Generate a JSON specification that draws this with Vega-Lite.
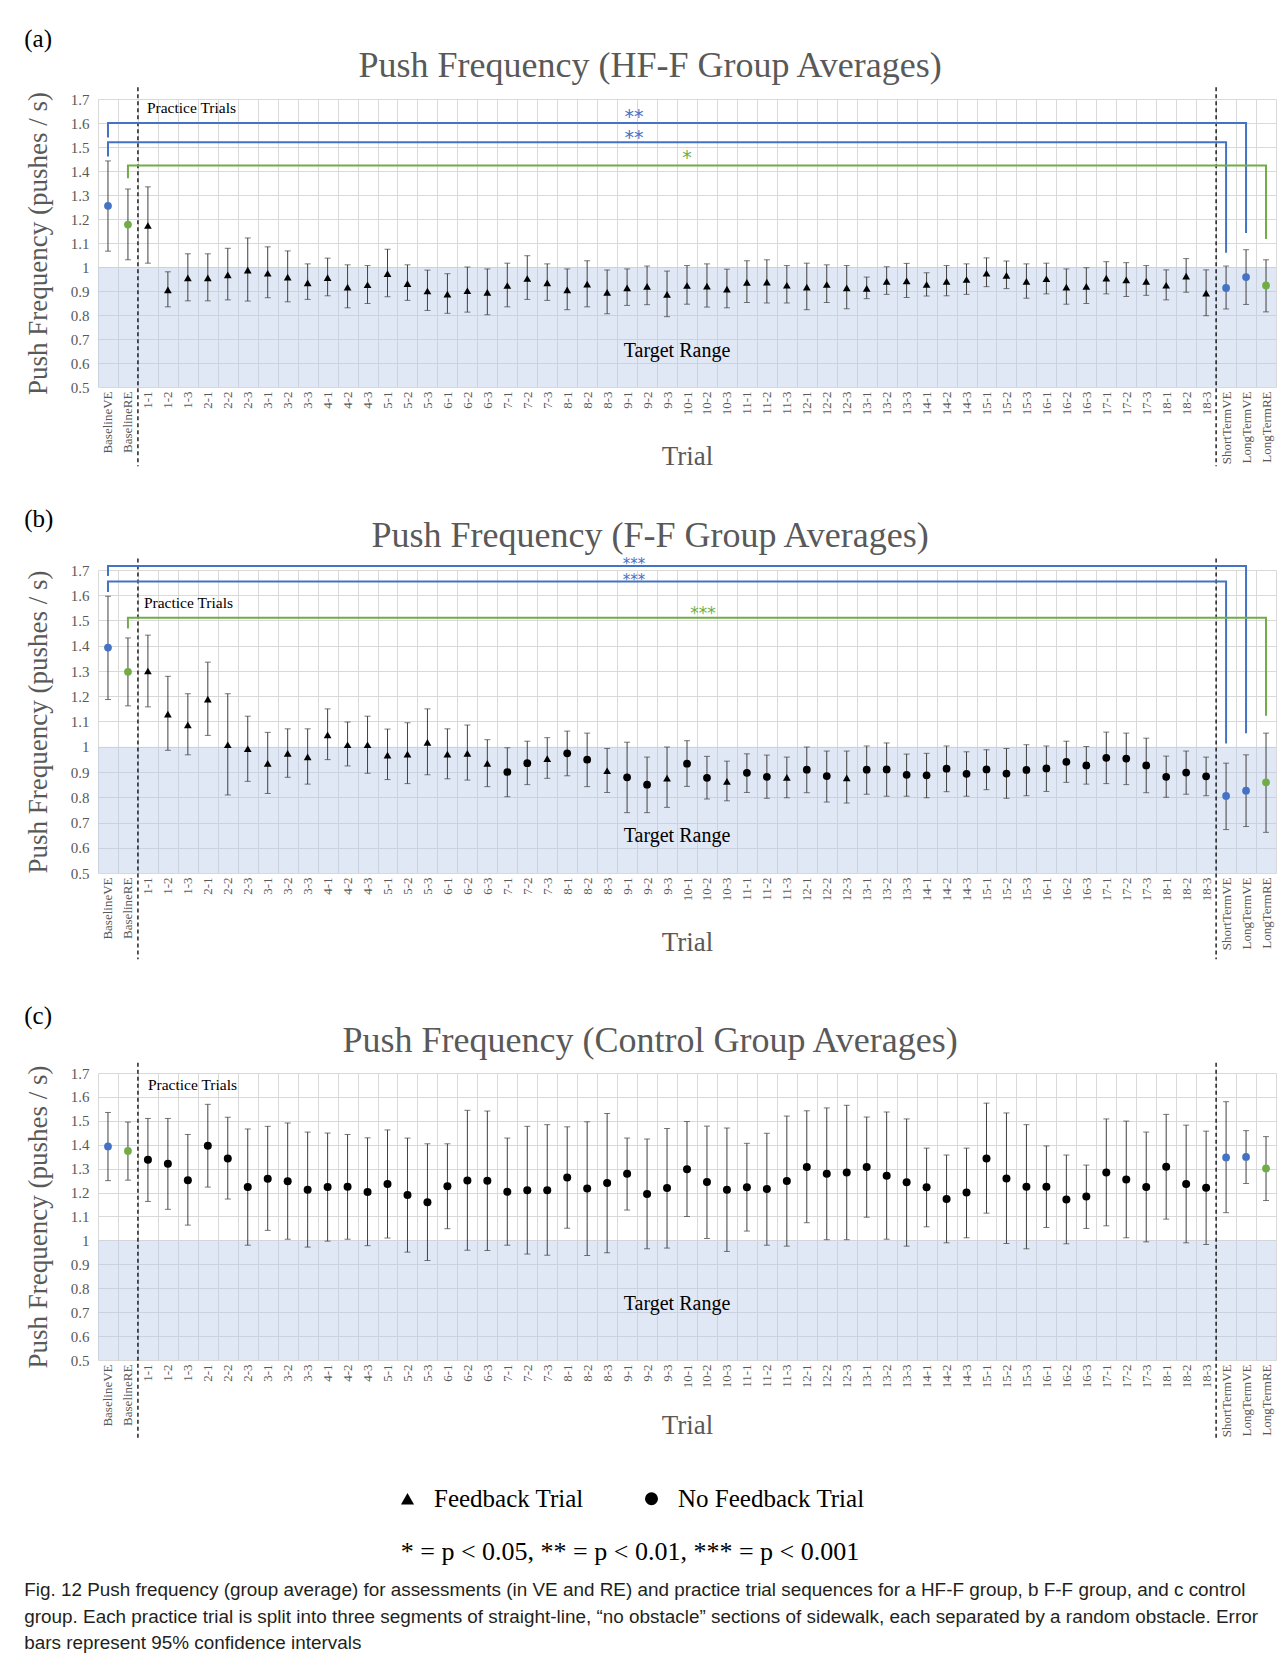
{
"$schema":"https://vega.github.io/schema/vega-lite/v6.json",
"background":"white",
"padding":{"left":24,"top":26,"right":4,"bottom":6},
"spacing":38,
"title":{"text":["Fig. 12  Push frequency (group average) for assessments (in VE and RE) and practice trial sequences for a HF-F group, b F-F group, and c control","group. Each practice trial is split into three segments of straight-line, “no obstacle” sections of sidewalk, each separated by a random obstacle. Error","bars represent 95% confidence intervals"],"orient":"bottom","anchor":"start","frame":"bounds","font":"Liberation Sans","fontSize":18.9,"fontWeight":"normal","color":"#231F20","lineHeight":26.5,"offset":16},
"datasets":{
"a":[
{"t":"BaselineVE","m":1.255,"lo":1.066,"hi":1.442,"k":"Assessment","mod":"VE"},
{"t":"BaselineRE","m":1.177,"lo":1.030,"hi":1.325,"k":"Assessment","mod":"RE"},
{"t":"1-1","m":1.173,"lo":1.016,"hi":1.334,"k":"Feedback Trial"},
{"t":"1-2","m":0.905,"lo":0.834,"hi":0.980,"k":"Feedback Trial"},
{"t":"1-3","m":0.955,"lo":0.859,"hi":1.055,"k":"Feedback Trial"},
{"t":"2-1","m":0.955,"lo":0.859,"hi":1.055,"k":"Feedback Trial"},
{"t":"2-2","m":0.967,"lo":0.863,"hi":1.078,"k":"Feedback Trial"},
{"t":"2-3","m":0.987,"lo":0.858,"hi":1.121,"k":"Feedback Trial"},
{"t":"3-1","m":0.974,"lo":0.872,"hi":1.084,"k":"Feedback Trial"},
{"t":"3-2","m":0.958,"lo":0.855,"hi":1.067,"k":"Feedback Trial"},
{"t":"3-3","m":0.934,"lo":0.865,"hi":1.013,"k":"Feedback Trial"},
{"t":"4-1","m":0.956,"lo":0.880,"hi":1.037,"k":"Feedback Trial"},
{"t":"4-2","m":0.916,"lo":0.830,"hi":1.009,"k":"Feedback Trial"},
{"t":"4-3","m":0.926,"lo":0.848,"hi":1.006,"k":"Feedback Trial"},
{"t":"5-1","m":0.972,"lo":0.876,"hi":1.074,"k":"Feedback Trial"},
{"t":"5-2","m":0.931,"lo":0.861,"hi":1.009,"k":"Feedback Trial"},
{"t":"5-3","m":0.900,"lo":0.819,"hi":0.987,"k":"Feedback Trial"},
{"t":"6-1","m":0.887,"lo":0.807,"hi":0.972,"k":"Feedback Trial"},
{"t":"6-2","m":0.901,"lo":0.812,"hi":1.000,"k":"Feedback Trial"},
{"t":"6-3","m":0.894,"lo":0.801,"hi":0.992,"k":"Feedback Trial"},
{"t":"7-1","m":0.923,"lo":0.834,"hi":1.016,"k":"Feedback Trial"},
{"t":"7-2","m":0.952,"lo":0.865,"hi":1.047,"k":"Feedback Trial"},
{"t":"7-3","m":0.934,"lo":0.861,"hi":1.013,"k":"Feedback Trial"},
{"t":"8-1","m":0.905,"lo":0.822,"hi":0.992,"k":"Feedback Trial"},
{"t":"8-2","m":0.929,"lo":0.834,"hi":1.026,"k":"Feedback Trial"},
{"t":"8-3","m":0.894,"lo":0.805,"hi":0.988,"k":"Feedback Trial"},
{"t":"9-1","m":0.913,"lo":0.840,"hi":0.992,"k":"Feedback Trial"},
{"t":"9-2","m":0.919,"lo":0.843,"hi":1.004,"k":"Feedback Trial"},
{"t":"9-3","m":0.886,"lo":0.793,"hi":0.983,"k":"Feedback Trial"},
{"t":"10-1","m":0.923,"lo":0.845,"hi":1.006,"k":"Feedback Trial"},
{"t":"10-2","m":0.920,"lo":0.833,"hi":1.013,"k":"Feedback Trial"},
{"t":"10-3","m":0.908,"lo":0.830,"hi":0.991,"k":"Feedback Trial"},
{"t":"11-1","m":0.936,"lo":0.852,"hi":1.026,"k":"Feedback Trial"},
{"t":"11-2","m":0.937,"lo":0.850,"hi":1.030,"k":"Feedback Trial"},
{"t":"11-3","m":0.924,"lo":0.850,"hi":1.006,"k":"Feedback Trial"},
{"t":"12-1","m":0.916,"lo":0.822,"hi":1.016,"k":"Feedback Trial"},
{"t":"12-2","m":0.927,"lo":0.852,"hi":1.009,"k":"Feedback Trial"},
{"t":"12-3","m":0.913,"lo":0.826,"hi":1.006,"k":"Feedback Trial"},
{"t":"13-1","m":0.911,"lo":0.868,"hi":0.958,"k":"Feedback Trial"},
{"t":"13-2","m":0.940,"lo":0.886,"hi":1.001,"k":"Feedback Trial"},
{"t":"13-3","m":0.942,"lo":0.873,"hi":1.015,"k":"Feedback Trial"},
{"t":"14-1","m":0.927,"lo":0.879,"hi":0.976,"k":"Feedback Trial"},
{"t":"14-2","m":0.940,"lo":0.880,"hi":1.006,"k":"Feedback Trial"},
{"t":"14-3","m":0.948,"lo":0.886,"hi":1.013,"k":"Feedback Trial"},
{"t":"15-1","m":0.974,"lo":0.918,"hi":1.038,"k":"Feedback Trial"},
{"t":"15-2","m":0.965,"lo":0.910,"hi":1.025,"k":"Feedback Trial"},
{"t":"15-3","m":0.940,"lo":0.870,"hi":1.013,"k":"Feedback Trial"},
{"t":"16-1","m":0.951,"lo":0.888,"hi":1.016,"k":"Feedback Trial"},
{"t":"16-2","m":0.916,"lo":0.845,"hi":0.992,"k":"Feedback Trial"},
{"t":"16-3","m":0.919,"lo":0.848,"hi":0.997,"k":"Feedback Trial"},
{"t":"17-1","m":0.954,"lo":0.888,"hi":1.022,"k":"Feedback Trial"},
{"t":"17-2","m":0.946,"lo":0.877,"hi":1.018,"k":"Feedback Trial"},
{"t":"17-3","m":0.940,"lo":0.882,"hi":1.006,"k":"Feedback Trial"},
{"t":"18-1","m":0.924,"lo":0.863,"hi":0.988,"k":"Feedback Trial"},
{"t":"18-2","m":0.962,"lo":0.895,"hi":1.035,"k":"Feedback Trial"},
{"t":"18-3","m":0.891,"lo":0.797,"hi":0.988,"k":"Feedback Trial"},
{"t":"ShortTermVE","m":0.913,"lo":0.825,"hi":1.004,"k":"Assessment","mod":"VE"},
{"t":"LongTermVE","m":0.958,"lo":0.844,"hi":1.072,"k":"Assessment","mod":"VE"},
{"t":"LongTermRE","m":0.923,"lo":0.813,"hi":1.030,"k":"Assessment","mod":"RE"}
],
"b":[
{"t":"BaselineVE","m":1.393,"lo":1.187,"hi":1.596,"k":"Assessment","mod":"VE"},
{"t":"BaselineRE","m":1.297,"lo":1.162,"hi":1.431,"k":"Assessment","mod":"RE"},
{"t":"1-1","m":1.300,"lo":1.158,"hi":1.442,"k":"Feedback Trial"},
{"t":"1-2","m":1.129,"lo":0.986,"hi":1.279,"k":"Feedback Trial"},
{"t":"1-3","m":1.087,"lo":0.968,"hi":1.210,"k":"Feedback Trial"},
{"t":"2-1","m":1.189,"lo":1.045,"hi":1.335,"k":"Feedback Trial"},
{"t":"2-2","m":1.008,"lo":0.809,"hi":1.210,"k":"Feedback Trial"},
{"t":"2-3","m":0.992,"lo":0.863,"hi":1.121,"k":"Feedback Trial"},
{"t":"3-1","m":0.934,"lo":0.815,"hi":1.057,"k":"Feedback Trial"},
{"t":"3-2","m":0.974,"lo":0.879,"hi":1.071,"k":"Feedback Trial"},
{"t":"3-3","m":0.960,"lo":0.852,"hi":1.071,"k":"Feedback Trial"},
{"t":"4-1","m":1.047,"lo":0.949,"hi":1.150,"k":"Feedback Trial"},
{"t":"4-2","m":1.008,"lo":0.924,"hi":1.098,"k":"Feedback Trial"},
{"t":"4-3","m":1.008,"lo":0.895,"hi":1.121,"k":"Feedback Trial"},
{"t":"5-1","m":0.967,"lo":0.870,"hi":1.070,"k":"Feedback Trial"},
{"t":"5-2","m":0.971,"lo":0.854,"hi":1.095,"k":"Feedback Trial"},
{"t":"5-3","m":1.017,"lo":0.889,"hi":1.150,"k":"Feedback Trial"},
{"t":"6-1","m":0.971,"lo":0.873,"hi":1.071,"k":"Feedback Trial"},
{"t":"6-2","m":0.974,"lo":0.868,"hi":1.086,"k":"Feedback Trial"},
{"t":"6-3","m":0.934,"lo":0.842,"hi":1.028,"k":"Feedback Trial"},
{"t":"7-1","m":0.900,"lo":0.802,"hi":0.996,"k":"No Feedback Trial"},
{"t":"7-2","m":0.935,"lo":0.850,"hi":1.022,"k":"No Feedback Trial"},
{"t":"7-3","m":0.953,"lo":0.875,"hi":1.036,"k":"Feedback Trial"},
{"t":"8-1","m":0.974,"lo":0.885,"hi":1.062,"k":"No Feedback Trial"},
{"t":"8-2","m":0.949,"lo":0.842,"hi":1.054,"k":"No Feedback Trial"},
{"t":"8-3","m":0.905,"lo":0.819,"hi":0.993,"k":"Feedback Trial"},
{"t":"9-1","m":0.879,"lo":0.739,"hi":1.018,"k":"No Feedback Trial"},
{"t":"9-2","m":0.850,"lo":0.739,"hi":0.959,"k":"No Feedback Trial"},
{"t":"9-3","m":0.876,"lo":0.760,"hi":0.999,"k":"Feedback Trial"},
{"t":"10-1","m":0.933,"lo":0.843,"hi":1.024,"k":"No Feedback Trial"},
{"t":"10-2","m":0.877,"lo":0.793,"hi":0.962,"k":"No Feedback Trial"},
{"t":"10-3","m":0.863,"lo":0.786,"hi":0.943,"k":"Feedback Trial"},
{"t":"11-1","m":0.897,"lo":0.819,"hi":0.972,"k":"No Feedback Trial"},
{"t":"11-2","m":0.881,"lo":0.796,"hi":0.967,"k":"No Feedback Trial"},
{"t":"11-3","m":0.879,"lo":0.798,"hi":0.959,"k":"Feedback Trial"},
{"t":"12-1","m":0.909,"lo":0.818,"hi":0.999,"k":"No Feedback Trial"},
{"t":"12-2","m":0.884,"lo":0.781,"hi":0.983,"k":"No Feedback Trial"},
{"t":"12-3","m":0.877,"lo":0.777,"hi":0.983,"k":"Feedback Trial"},
{"t":"13-1","m":0.909,"lo":0.812,"hi":1.003,"k":"No Feedback Trial"},
{"t":"13-2","m":0.910,"lo":0.804,"hi":1.015,"k":"No Feedback Trial"},
{"t":"13-3","m":0.889,"lo":0.804,"hi":0.971,"k":"No Feedback Trial"},
{"t":"14-1","m":0.887,"lo":0.798,"hi":0.974,"k":"No Feedback Trial"},
{"t":"14-2","m":0.913,"lo":0.822,"hi":1.003,"k":"No Feedback Trial"},
{"t":"14-3","m":0.893,"lo":0.804,"hi":0.980,"k":"No Feedback Trial"},
{"t":"15-1","m":0.910,"lo":0.830,"hi":0.988,"k":"No Feedback Trial"},
{"t":"15-2","m":0.894,"lo":0.796,"hi":0.993,"k":"No Feedback Trial"},
{"t":"15-3","m":0.908,"lo":0.806,"hi":1.008,"k":"No Feedback Trial"},
{"t":"16-1","m":0.914,"lo":0.823,"hi":1.003,"k":"No Feedback Trial"},
{"t":"16-2","m":0.940,"lo":0.859,"hi":1.022,"k":"No Feedback Trial"},
{"t":"16-3","m":0.926,"lo":0.852,"hi":1.001,"k":"No Feedback Trial"},
{"t":"17-1","m":0.956,"lo":0.854,"hi":1.058,"k":"No Feedback Trial"},
{"t":"17-2","m":0.953,"lo":0.850,"hi":1.054,"k":"No Feedback Trial"},
{"t":"17-3","m":0.926,"lo":0.818,"hi":1.034,"k":"No Feedback Trial"},
{"t":"18-1","m":0.881,"lo":0.800,"hi":0.963,"k":"No Feedback Trial"},
{"t":"18-2","m":0.898,"lo":0.812,"hi":0.983,"k":"No Feedback Trial"},
{"t":"18-3","m":0.883,"lo":0.806,"hi":0.959,"k":"No Feedback Trial"},
{"t":"ShortTermVE","m":0.805,"lo":0.672,"hi":0.935,"k":"Assessment","mod":"VE"},
{"t":"LongTermVE","m":0.826,"lo":0.684,"hi":0.968,"k":"Assessment","mod":"VE"},
{"t":"LongTermRE","m":0.859,"lo":0.661,"hi":1.054,"k":"Assessment","mod":"RE"}
],
"c":[
{"t":"BaselineVE","m":1.393,"lo":1.250,"hi":1.535,"k":"Assessment","mod":"VE"},
{"t":"BaselineRE","m":1.374,"lo":1.252,"hi":1.495,"k":"Assessment","mod":"RE"},
{"t":"1-1","m":1.337,"lo":1.163,"hi":1.510,"k":"No Feedback Trial"},
{"t":"1-2","m":1.321,"lo":1.130,"hi":1.510,"k":"No Feedback Trial"},
{"t":"1-3","m":1.252,"lo":1.064,"hi":1.443,"k":"No Feedback Trial"},
{"t":"2-1","m":1.396,"lo":1.223,"hi":1.569,"k":"No Feedback Trial"},
{"t":"2-2","m":1.343,"lo":1.173,"hi":1.515,"k":"No Feedback Trial"},
{"t":"2-3","m":1.223,"lo":0.980,"hi":1.466,"k":"No Feedback Trial"},
{"t":"3-1","m":1.258,"lo":1.042,"hi":1.477,"k":"No Feedback Trial"},
{"t":"3-2","m":1.247,"lo":1.005,"hi":1.491,"k":"No Feedback Trial"},
{"t":"3-3","m":1.212,"lo":0.972,"hi":1.453,"k":"No Feedback Trial"},
{"t":"4-1","m":1.223,"lo":0.997,"hi":1.449,"k":"No Feedback Trial"},
{"t":"4-2","m":1.224,"lo":1.005,"hi":1.443,"k":"No Feedback Trial"},
{"t":"4-3","m":1.202,"lo":0.978,"hi":1.429,"k":"No Feedback Trial"},
{"t":"5-1","m":1.236,"lo":1.010,"hi":1.462,"k":"No Feedback Trial"},
{"t":"5-2","m":1.190,"lo":0.951,"hi":1.428,"k":"No Feedback Trial"},
{"t":"5-3","m":1.160,"lo":0.916,"hi":1.404,"k":"No Feedback Trial"},
{"t":"6-1","m":1.227,"lo":1.049,"hi":1.404,"k":"No Feedback Trial"},
{"t":"6-2","m":1.251,"lo":0.959,"hi":1.544,"k":"No Feedback Trial"},
{"t":"6-3","m":1.250,"lo":0.958,"hi":1.541,"k":"No Feedback Trial"},
{"t":"7-1","m":1.203,"lo":0.980,"hi":1.428,"k":"No Feedback Trial"},
{"t":"7-2","m":1.210,"lo":0.943,"hi":1.477,"k":"No Feedback Trial"},
{"t":"7-3","m":1.210,"lo":0.938,"hi":1.484,"k":"No Feedback Trial"},
{"t":"8-1","m":1.263,"lo":1.051,"hi":1.475,"k":"No Feedback Trial"},
{"t":"8-2","m":1.217,"lo":0.937,"hi":1.496,"k":"No Feedback Trial"},
{"t":"8-3","m":1.240,"lo":0.948,"hi":1.531,"k":"No Feedback Trial"},
{"t":"9-1","m":1.279,"lo":1.127,"hi":1.428,"k":"No Feedback Trial"},
{"t":"9-2","m":1.194,"lo":0.965,"hi":1.424,"k":"No Feedback Trial"},
{"t":"9-3","m":1.219,"lo":0.968,"hi":1.468,"k":"No Feedback Trial"},
{"t":"10-1","m":1.298,"lo":1.100,"hi":1.497,"k":"No Feedback Trial"},
{"t":"10-2","m":1.244,"lo":1.008,"hi":1.478,"k":"No Feedback Trial"},
{"t":"10-3","m":1.212,"lo":0.954,"hi":1.470,"k":"No Feedback Trial"},
{"t":"11-1","m":1.222,"lo":1.039,"hi":1.406,"k":"No Feedback Trial"},
{"t":"11-2","m":1.215,"lo":0.980,"hi":1.448,"k":"No Feedback Trial"},
{"t":"11-3","m":1.248,"lo":0.976,"hi":1.520,"k":"No Feedback Trial"},
{"t":"12-1","m":1.307,"lo":1.074,"hi":1.542,"k":"No Feedback Trial"},
{"t":"12-2","m":1.279,"lo":1.003,"hi":1.554,"k":"No Feedback Trial"},
{"t":"12-3","m":1.284,"lo":1.003,"hi":1.565,"k":"No Feedback Trial"},
{"t":"13-1","m":1.307,"lo":1.097,"hi":1.516,"k":"No Feedback Trial"},
{"t":"13-2","m":1.270,"lo":1.005,"hi":1.537,"k":"No Feedback Trial"},
{"t":"13-3","m":1.243,"lo":0.976,"hi":1.508,"k":"No Feedback Trial"},
{"t":"14-1","m":1.222,"lo":1.057,"hi":1.386,"k":"No Feedback Trial"},
{"t":"14-2","m":1.173,"lo":0.990,"hi":1.357,"k":"No Feedback Trial"},
{"t":"14-3","m":1.200,"lo":1.011,"hi":1.386,"k":"No Feedback Trial"},
{"t":"15-1","m":1.343,"lo":1.114,"hi":1.574,"k":"No Feedback Trial"},
{"t":"15-2","m":1.259,"lo":0.987,"hi":1.533,"k":"No Feedback Trial"},
{"t":"15-3","m":1.224,"lo":0.965,"hi":1.484,"k":"No Feedback Trial"},
{"t":"16-1","m":1.224,"lo":1.054,"hi":1.395,"k":"No Feedback Trial"},
{"t":"16-2","m":1.171,"lo":0.986,"hi":1.357,"k":"No Feedback Trial"},
{"t":"16-3","m":1.184,"lo":1.050,"hi":1.315,"k":"No Feedback Trial"},
{"t":"17-1","m":1.284,"lo":1.061,"hi":1.508,"k":"No Feedback Trial"},
{"t":"17-2","m":1.255,"lo":1.011,"hi":1.499,"k":"No Feedback Trial"},
{"t":"17-3","m":1.223,"lo":0.994,"hi":1.453,"k":"No Feedback Trial"},
{"t":"18-1","m":1.308,"lo":1.089,"hi":1.527,"k":"No Feedback Trial"},
{"t":"18-2","m":1.236,"lo":0.990,"hi":1.482,"k":"No Feedback Trial"},
{"t":"18-3","m":1.220,"lo":0.983,"hi":1.457,"k":"No Feedback Trial"},
{"t":"ShortTermVE","m":1.347,"lo":1.116,"hi":1.580,"k":"Assessment","mod":"VE"},
{"t":"LongTermVE","m":1.349,"lo":1.238,"hi":1.459,"k":"Assessment","mod":"VE"},
{"t":"LongTermRE","m":1.301,"lo":1.167,"hi":1.434,"k":"Assessment","mod":"RE"}
]
},
"vconcat":[
{"title":{"text":"(a)","anchor":"start","frame":"bounds","font":"Liberation Serif","fontSize":25,"fontWeight":"normal","color":"black","offset":-4},
"vconcat":[{
"width":1178,"height":288,
"title":{"text":"Push Frequency (HF-F Group Averages)","anchor":"middle","frame":"bounds","font":"Liberation Serif","fontSize":36,"fontWeight":"normal","color":"#595959","offset":2},
"data":{"name":"a"},
"encoding":{"x":{"field":"t","type":"nominal","title":"Trial","scale":{"domain":["BaselineVE","BaselineRE","1-1","1-2","1-3","2-1","2-2","2-3","3-1","3-2","3-3","4-1","4-2","4-3","5-1","5-2","5-3","6-1","6-2","6-3","7-1","7-2","7-3","8-1","8-2","8-3","9-1","9-2","9-3","10-1","10-2","10-3","11-1","11-2","11-3","12-1","12-2","12-3","13-1","13-2","13-3","14-1","14-2","14-3","15-1","15-2","15-3","16-1","16-2","16-3","17-1","17-2","17-3","18-1","18-2","18-3","ShortTermVE","LongTermVE","LongTermRE"],"paddingInner":0,"paddingOuter":0},"axis":{"titleY":69,"titleBaseline":"middle"}}},
"layer":[
{"data":{"values":[{"lo":0.5,"hi":1}]},"mark":{"type":"rect","fill":"#B4C7E7","opacity":0.42},"encoding":{"x":{"value":0},"x2":{"value":"width"},"y":{"field":"lo","type":"quantitative","scale":{"domain":[0.5,1.7],"nice":false,"zero":false},"title":"Push Frequency (pushes / s)","axis":{"values":[0.5,0.6,0.7,0.8,0.9,1,1.1,1.2,1.3,1.4,1.5,1.6,1.7],"tickCount":13,"format":".1~f","labelOverlap":false}},"y2":{"field":"hi"}}},
{"mark":{"type":"rule","color":"#404040","strokeWidth":1},"encoding":{"y":{"field":"lo","type":"quantitative","scale":{"domain":[0.5,1.7],"nice":false,"zero":false},"title":"Push Frequency (pushes / s)"},"y2":{"field":"hi"}}},
{"mark":{"type":"tick","color":"#404040","size":6,"thickness":1},"encoding":{"y":{"field":"lo","type":"quantitative","scale":{"domain":[0.5,1.7],"nice":false,"zero":false},"title":"Push Frequency (pushes / s)"}}},
{"mark":{"type":"tick","color":"#404040","size":6,"thickness":1},"encoding":{"y":{"field":"hi","type":"quantitative","scale":{"domain":[0.5,1.7],"nice":false,"zero":false},"title":"Push Frequency (pushes / s)"}}},
{"transform":[{"filter":"datum.k !== 'Assessment'"}],"mark":{"type":"point","filled":true,"color":"black","size":60,"opacity":1},"encoding":{"y":{"field":"m","type":"quantitative","scale":{"domain":[0.5,1.7],"nice":false,"zero":false},"title":"Push Frequency (pushes / s)"},"shape":{"field":"k","type":"nominal","scale":{"domain":["Feedback Trial","No Feedback Trial"],"range":["triangle-up","circle"]},"title":"* = p < 0.05, ** = p < 0.01, *** = p < 0.001","legend":{"orient":"none","legendX":297,"legendY":1387}}}},
{"transform":[{"filter":"datum.k === 'Assessment'"}],"mark":{"type":"point","filled":true,"shape":"circle","size":60,"opacity":1},"encoding":{"y":{"field":"m","type":"quantitative","scale":{"domain":[0.5,1.7],"nice":false,"zero":false},"title":"Push Frequency (pushes / s)"},"color":{"field":"mod","type":"nominal","scale":{"domain":["VE","RE"],"range":["#4472C4","#70AD47"]},"legend":null}}},
{"data":{"values":[{"t":"1-1","top":1.749,"bot":0.17},{"t":"ShortTermVE","top":1.749,"bot":0.17}]},"mark":{"type":"rule","color":"black","strokeDash":[4,3],"strokeWidth":1.3},"encoding":{"x":{"field":"t","type":"nominal","bandPosition":0},"y":{"field":"top","type":"quantitative","scale":{"domain":[0.5,1.7],"nice":false,"zero":false},"title":"Push Frequency (pushes / s)"},"y2":{"field":"bot"}}},
{"data":{"values":[
{"id":"a1","t":"BaselineVE","y":1.54,"seq":0,"mod":"VE"},{"id":"a1","t":"BaselineVE","y":1.60,"seq":1,"mod":"VE"},{"id":"a1","t":"LongTermVE","y":1.60,"seq":2,"mod":"VE"},{"id":"a1","t":"LongTermVE","y":1.142,"seq":3,"mod":"VE"},
{"id":"a2","t":"BaselineVE","y":1.46,"seq":0,"mod":"VE"},{"id":"a2","t":"BaselineVE","y":1.52,"seq":1,"mod":"VE"},{"id":"a2","t":"ShortTermVE","y":1.52,"seq":2,"mod":"VE"},{"id":"a2","t":"ShortTermVE","y":1.059,"seq":3,"mod":"VE"},
{"id":"a3","t":"BaselineRE","y":1.37,"seq":0,"mod":"RE"},{"id":"a3","t":"BaselineRE","y":1.423,"seq":1,"mod":"RE"},{"id":"a3","t":"LongTermRE","y":1.423,"seq":2,"mod":"RE"},{"id":"a3","t":"LongTermRE","y":1.117,"seq":3,"mod":"RE"}]},
"mark":{"type":"line","strokeWidth":2},"encoding":{"y":{"field":"y","type":"quantitative","scale":{"domain":[0.5,1.7],"nice":false,"zero":false},"title":"Push Frequency (pushes / s)"},"order":{"field":"seq","type":"quantitative"},"detail":{"field":"id","type":"nominal"},"color":{"field":"mod","type":"nominal","scale":{"domain":["VE","RE"],"range":["#4472C4","#70AD47"]},"legend":null}}},
{"data":{"values":[{"t":"9-1","y":1.638,"s":"**","mod":"VE"},{"t":"9-1","y":1.552,"s":"**","mod":"VE"}]},"mark":{"type":"text","font":"DejaVu Sans","fontSize":19,"dx":7,"dy":3,"baseline":"middle"},"encoding":{"y":{"field":"y","type":"quantitative","scale":{"domain":[0.5,1.7],"nice":false,"zero":false},"title":"Push Frequency (pushes / s)"},"text":{"field":"s"},"color":{"field":"mod","type":"nominal","scale":{"domain":["VE","RE"],"range":["#4472C4","#70AD47"]},"legend":null}}},
{"data":{"values":[{"t":"10-1","y":1.468,"s":"*","mod":"RE"}]},"mark":{"type":"text","font":"DejaVu Sans","fontSize":19,"dy":3,"baseline":"middle"},"encoding":{"y":{"field":"y","type":"quantitative","scale":{"domain":[0.5,1.7],"nice":false,"zero":false},"title":"Push Frequency (pushes / s)"},"text":{"field":"s"},"color":{"field":"mod","type":"nominal","scale":{"domain":["VE","RE"],"range":["#4472C4","#70AD47"]},"legend":null}}},
{"data":{"values":[{"t":"1-1","y":1.662,"s":"Practice Trials"}]},"mark":{"type":"text","align":"left","baseline":"middle","dx":9,"font":"Liberation Serif","fontSize":15.5,"color":"black"},"encoding":{"x":{"field":"t","type":"nominal","bandPosition":0},"y":{"field":"y","type":"quantitative","scale":{"domain":[0.5,1.7],"nice":false,"zero":false},"title":"Push Frequency (pushes / s)"},"text":{"field":"s"}}},
{"data":{"values":[{"t":"10-1","y":0.65,"s":"Target Range"}]},"mark":{"type":"text","baseline":"middle","font":"Liberation Serif","fontSize":20,"color":"black"},"encoding":{"x":{"field":"t","type":"nominal","bandPosition":0},"y":{"field":"y","type":"quantitative","scale":{"domain":[0.5,1.7],"nice":false,"zero":false},"title":"Push Frequency (pushes / s)"},"text":{"field":"s"}}}
]}]},
{"spacing":43,"vconcat":[
{"title":{"text":"(b)","anchor":"start","frame":"bounds","font":"Liberation Serif","fontSize":25,"fontWeight":"normal","color":"black","offset":-14},
"vconcat":[{
"width":1178,"height":303,
"title":{"text":"Push Frequency (F-F Group Averages)","anchor":"middle","frame":"bounds","font":"Liberation Serif","fontSize":36,"fontWeight":"normal","color":"#595959","offset":2},
"data":{"name":"b"},
"encoding":{"x":{"field":"t","type":"nominal","title":"Trial","scale":{"domain":["BaselineVE","BaselineRE","1-1","1-2","1-3","2-1","2-2","2-3","3-1","3-2","3-3","4-1","4-2","4-3","5-1","5-2","5-3","6-1","6-2","6-3","7-1","7-2","7-3","8-1","8-2","8-3","9-1","9-2","9-3","10-1","10-2","10-3","11-1","11-2","11-3","12-1","12-2","12-3","13-1","13-2","13-3","14-1","14-2","14-3","15-1","15-2","15-3","16-1","16-2","16-3","17-1","17-2","17-3","18-1","18-2","18-3","ShortTermVE","LongTermVE","LongTermRE"],"paddingInner":0,"paddingOuter":0},"axis":{"titleY":69,"titleBaseline":"middle"}}},
"layer":[
{"data":{"values":[{"lo":0.5,"hi":1}]},"mark":{"type":"rect","fill":"#B4C7E7","opacity":0.42},"encoding":{"x":{"value":0},"x2":{"value":"width"},"y":{"field":"lo","type":"quantitative","scale":{"domain":[0.5,1.7],"nice":false,"zero":false},"title":"Push Frequency (pushes / s)","axis":{"values":[0.5,0.6,0.7,0.8,0.9,1,1.1,1.2,1.3,1.4,1.5,1.6,1.7],"tickCount":13,"format":".1~f","labelOverlap":false}},"y2":{"field":"hi"}}},
{"mark":{"type":"rule","color":"#404040","strokeWidth":1},"encoding":{"y":{"field":"lo","type":"quantitative","scale":{"domain":[0.5,1.7],"nice":false,"zero":false},"title":"Push Frequency (pushes / s)"},"y2":{"field":"hi"}}},
{"mark":{"type":"tick","color":"#404040","size":6,"thickness":1},"encoding":{"y":{"field":"lo","type":"quantitative","scale":{"domain":[0.5,1.7],"nice":false,"zero":false},"title":"Push Frequency (pushes / s)"}}},
{"mark":{"type":"tick","color":"#404040","size":6,"thickness":1},"encoding":{"y":{"field":"hi","type":"quantitative","scale":{"domain":[0.5,1.7],"nice":false,"zero":false},"title":"Push Frequency (pushes / s)"}}},
{"transform":[{"filter":"datum.k !== 'Assessment'"}],"mark":{"type":"point","filled":true,"color":"black","size":60,"opacity":1},"encoding":{"y":{"field":"m","type":"quantitative","scale":{"domain":[0.5,1.7],"nice":false,"zero":false},"title":"Push Frequency (pushes / s)"},"shape":{"field":"k","type":"nominal","scale":{"domain":["Feedback Trial","No Feedback Trial"],"range":["triangle-up","circle"]},"title":"* = p < 0.05, ** = p < 0.01, *** = p < 0.001","legend":{"orient":"none","legendX":297,"legendY":1387}}}},
{"transform":[{"filter":"datum.k === 'Assessment'"}],"mark":{"type":"point","filled":true,"shape":"circle","size":60,"opacity":1},"encoding":{"y":{"field":"m","type":"quantitative","scale":{"domain":[0.5,1.7],"nice":false,"zero":false},"title":"Push Frequency (pushes / s)"},"color":{"field":"mod","type":"nominal","scale":{"domain":["VE","RE"],"range":["#4472C4","#70AD47"]},"legend":null}}},
{"data":{"values":[{"t":"1-1","top":1.746,"bot":0.158},{"t":"ShortTermVE","top":1.746,"bot":0.158}]},"mark":{"type":"rule","color":"black","strokeDash":[4,3],"strokeWidth":1.3},"encoding":{"x":{"field":"t","type":"nominal","bandPosition":0},"y":{"field":"top","type":"quantitative","scale":{"domain":[0.5,1.7],"nice":false,"zero":false},"title":"Push Frequency (pushes / s)"},"y2":{"field":"bot"}}},
{"data":{"values":[
{"id":"b1","t":"BaselineVE","y":1.676,"seq":0,"mod":"VE"},{"id":"b1","t":"BaselineVE","y":1.716,"seq":1,"mod":"VE"},{"id":"b1","t":"LongTermVE","y":1.716,"seq":2,"mod":"VE"},{"id":"b1","t":"LongTermVE","y":1.053,"seq":3,"mod":"VE"},
{"id":"b2","t":"BaselineVE","y":1.613,"seq":0,"mod":"VE"},{"id":"b2","t":"BaselineVE","y":1.654,"seq":1,"mod":"VE"},{"id":"b2","t":"ShortTermVE","y":1.654,"seq":2,"mod":"VE"},{"id":"b2","t":"ShortTermVE","y":1.013,"seq":3,"mod":"VE"},
{"id":"b3","t":"BaselineRE","y":1.468,"seq":0,"mod":"RE"},{"id":"b3","t":"BaselineRE","y":1.511,"seq":1,"mod":"RE"},{"id":"b3","t":"LongTermRE","y":1.511,"seq":2,"mod":"RE"},{"id":"b3","t":"LongTermRE","y":1.123,"seq":3,"mod":"RE"}]},
"mark":{"type":"line","strokeWidth":2},"encoding":{"y":{"field":"y","type":"quantitative","scale":{"domain":[0.5,1.7],"nice":false,"zero":false},"title":"Push Frequency (pushes / s)"},"order":{"field":"seq","type":"quantitative"},"detail":{"field":"id","type":"nominal"},"color":{"field":"mod","type":"nominal","scale":{"domain":["VE","RE"],"range":["#4472C4","#70AD47"]},"legend":null}}},
{"data":{"values":[{"t":"9-1","y":1.742,"s":"***","mod":"VE"},{"t":"9-1","y":1.68,"s":"***","mod":"VE"}]},"mark":{"type":"text","font":"DejaVu Sans","fontSize":15,"dx":7,"dy":5,"baseline":"middle"},"encoding":{"y":{"field":"y","type":"quantitative","scale":{"domain":[0.5,1.7],"nice":false,"zero":false},"title":"Push Frequency (pushes / s)"},"text":{"field":"s"},"color":{"field":"mod","type":"nominal","scale":{"domain":["VE","RE"],"range":["#4472C4","#70AD47"]},"legend":null}}},
{"data":{"values":[{"t":"10-2","y":1.547,"s":"***","mod":"RE"}]},"mark":{"type":"text","font":"DejaVu Sans","fontSize":17,"dx":-4,"dy":5,"baseline":"middle"},"encoding":{"y":{"field":"y","type":"quantitative","scale":{"domain":[0.5,1.7],"nice":false,"zero":false},"title":"Push Frequency (pushes / s)"},"text":{"field":"s"},"color":{"field":"mod","type":"nominal","scale":{"domain":["VE","RE"],"range":["#4472C4","#70AD47"]},"legend":null}}},
{"data":{"values":[{"t":"1-1","y":1.569,"s":"Practice Trials"}]},"mark":{"type":"text","align":"left","baseline":"middle","dx":6,"font":"Liberation Serif","fontSize":15.5,"color":"black"},"encoding":{"x":{"field":"t","type":"nominal","bandPosition":0},"y":{"field":"y","type":"quantitative","scale":{"domain":[0.5,1.7],"nice":false,"zero":false},"title":"Push Frequency (pushes / s)"},"text":{"field":"s"}}},
{"data":{"values":[{"t":"10-1","y":0.647,"s":"Target Range"}]},"mark":{"type":"text","baseline":"middle","font":"Liberation Serif","fontSize":20,"color":"black"},"encoding":{"x":{"field":"t","type":"nominal","bandPosition":0},"y":{"field":"y","type":"quantitative","scale":{"domain":[0.5,1.7],"nice":false,"zero":false},"title":"Push Frequency (pushes / s)"},"text":{"field":"s"}}}
]}]},
{"title":{"text":"(c)","anchor":"start","frame":"bounds","font":"Liberation Serif","fontSize":25,"fontWeight":"normal","color":"black","offset":-6},
"vconcat":[{
"width":1178,"height":287,
"title":{"text":"Push Frequency (Control Group Averages)","anchor":"middle","frame":"bounds","font":"Liberation Serif","fontSize":36,"fontWeight":"normal","color":"#595959","offset":2},
"data":{"name":"c"},
"encoding":{"x":{"field":"t","type":"nominal","title":"Trial","scale":{"domain":["BaselineVE","BaselineRE","1-1","1-2","1-3","2-1","2-2","2-3","3-1","3-2","3-3","4-1","4-2","4-3","5-1","5-2","5-3","6-1","6-2","6-3","7-1","7-2","7-3","8-1","8-2","8-3","9-1","9-2","9-3","10-1","10-2","10-3","11-1","11-2","11-3","12-1","12-2","12-3","13-1","13-2","13-3","14-1","14-2","14-3","15-1","15-2","15-3","16-1","16-2","16-3","17-1","17-2","17-3","18-1","18-2","18-3","ShortTermVE","LongTermVE","LongTermRE"],"paddingInner":0,"paddingOuter":0},"axis":{"titleY":65,"titleBaseline":"middle"}}},
"layer":[
{"data":{"values":[{"lo":0.5,"hi":1}]},"mark":{"type":"rect","fill":"#B4C7E7","opacity":0.42},"encoding":{"x":{"value":0},"x2":{"value":"width"},"y":{"field":"lo","type":"quantitative","scale":{"domain":[0.5,1.7],"nice":false,"zero":false},"title":"Push Frequency (pushes / s)","axis":{"values":[0.5,0.6,0.7,0.8,0.9,1,1.1,1.2,1.3,1.4,1.5,1.6,1.7],"tickCount":13,"format":".1~f","labelOverlap":false}},"y2":{"field":"hi"}}},
{"mark":{"type":"rule","color":"#404040","strokeWidth":1},"encoding":{"y":{"field":"lo","type":"quantitative","scale":{"domain":[0.5,1.7],"nice":false,"zero":false},"title":"Push Frequency (pushes / s)"},"y2":{"field":"hi"}}},
{"mark":{"type":"tick","color":"#404040","size":6,"thickness":1},"encoding":{"y":{"field":"lo","type":"quantitative","scale":{"domain":[0.5,1.7],"nice":false,"zero":false},"title":"Push Frequency (pushes / s)"}}},
{"mark":{"type":"tick","color":"#404040","size":6,"thickness":1},"encoding":{"y":{"field":"hi","type":"quantitative","scale":{"domain":[0.5,1.7],"nice":false,"zero":false},"title":"Push Frequency (pushes / s)"}}},
{"transform":[{"filter":"datum.k !== 'Assessment'"}],"mark":{"type":"point","filled":true,"color":"black","size":64,"opacity":1},"encoding":{"y":{"field":"m","type":"quantitative","scale":{"domain":[0.5,1.7],"nice":false,"zero":false},"title":"Push Frequency (pushes / s)"},"shape":{"field":"k","type":"nominal","scale":{"domain":["Feedback Trial","No Feedback Trial"],"range":["triangle-up","circle"]},"title":"* = p < 0.05, ** = p < 0.01, *** = p < 0.001","legend":{"orient":"none","legendX":297,"legendY":1387}}}},
{"transform":[{"filter":"datum.k === 'Assessment'"}],"mark":{"type":"point","filled":true,"shape":"circle","size":60,"opacity":1},"encoding":{"y":{"field":"m","type":"quantitative","scale":{"domain":[0.5,1.7],"nice":false,"zero":false},"title":"Push Frequency (pushes / s)"},"color":{"field":"mod","type":"nominal","scale":{"domain":["VE","RE"],"range":["#4472C4","#70AD47"]},"legend":null}}},
{"data":{"values":[{"t":"1-1","top":1.743,"bot":0.162},{"t":"ShortTermVE","top":1.743,"bot":0.162}]},"mark":{"type":"rule","color":"black","strokeDash":[4,3],"strokeWidth":1.3},"encoding":{"x":{"field":"t","type":"nominal","bandPosition":0},"y":{"field":"top","type":"quantitative","scale":{"domain":[0.5,1.7],"nice":false,"zero":false},"title":"Push Frequency (pushes / s)"},"y2":{"field":"bot"}}},
{"data":{"values":[{"t":"1-1","y":1.651,"s":"Practice Trials"}]},"mark":{"type":"text","align":"left","baseline":"middle","dx":10,"font":"Liberation Serif","fontSize":15.5,"color":"black"},"encoding":{"x":{"field":"t","type":"nominal","bandPosition":0},"y":{"field":"y","type":"quantitative","scale":{"domain":[0.5,1.7],"nice":false,"zero":false},"title":"Push Frequency (pushes / s)"},"text":{"field":"s"}}},
{"data":{"values":[{"t":"10-1","y":0.735,"s":"Target Range"}]},"mark":{"type":"text","baseline":"middle","font":"Liberation Serif","fontSize":20,"color":"black"},"encoding":{"x":{"field":"t","type":"nominal","bandPosition":0},"y":{"field":"y","type":"quantitative","scale":{"domain":[0.5,1.7],"nice":false,"zero":false},"title":"Push Frequency (pushes / s)"},"text":{"field":"s"}}}
]}]}
]}
],
"config":{
"view":{"stroke":null},
"axisX":{"labelFont":"Liberation Serif","labelFontSize":13,"labelColor":"#595959","labelAngle":270,"labelPadding":4,"ticks":false,"domain":false,"grid":true,"gridColor":"#D9D9D9","tickBand":"extent","titleFont":"Liberation Serif","titleFontSize":27,"titleFontWeight":"normal","titleColor":"#595959"},
"axisY":{"labelFont":"Liberation Serif","labelFontSize":15,"labelColor":"#595959","labelPadding":9,"labelOverlap":false,"tickCount":13,"ticks":false,"domain":false,"grid":true,"gridColor":"#D9D9D9","titleFont":"Liberation Serif","titleFontSize":27,"titleFontWeight":"normal","titleColor":"#595959","titlePadding":18},
"legend":{"direction":"horizontal","titleOrient":"bottom","titleAnchor":"middle","titleFont":"Liberation Serif","titleFontSize":26,"titleFontWeight":"normal","titleColor":"black","titleLimit":1000,"titlePadding":27,"labelFont":"Liberation Serif","labelFontSize":25,"labelColor":"black","labelLimit":500,"labelOffset":14,"columnPadding":55,"symbolSize":170,"symbolFillColor":"black","symbolStrokeWidth":0}
}
}
